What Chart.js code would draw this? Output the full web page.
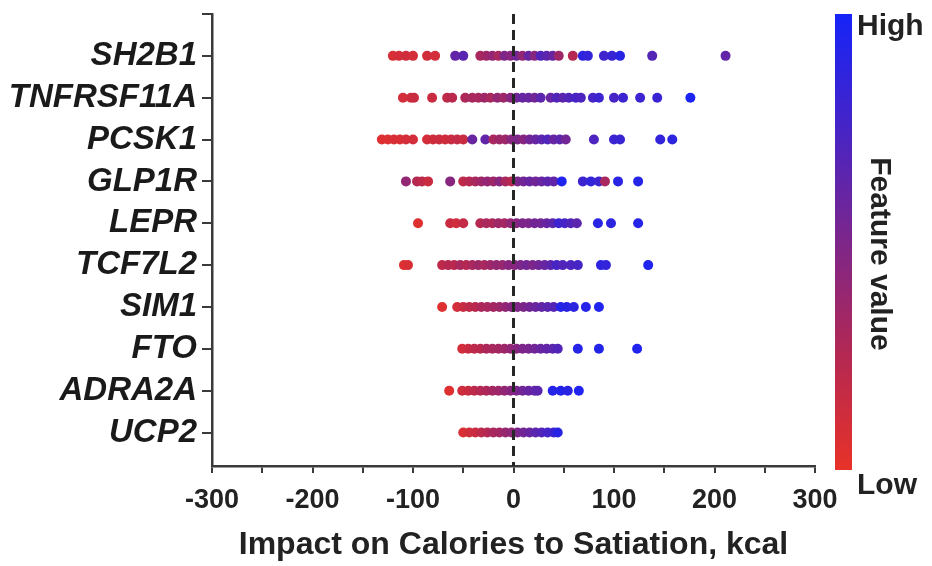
<!DOCTYPE html>
<html>
<head>
<meta charset="utf-8">
<title>Feature impact on calories to satiation</title>
<script src="https://cdn.jsdelivr.net/npm/chart.js"></script>
<style>
  html, body { margin: 0; padding: 0; background: #fff; }
  #wrap { width: 932px; height: 566px; }
</style>
</head>
<body>
<div id="wrap"><canvas id="chart" width="932" height="566"></canvas></div>
<script>
// genes, top to bottom
const genes = ["SH2B1", "TNFRSF11A", "PCSK1", "GLP1R", "LEPR", "TCF7L2", "SIM1", "FTO", "ADRA2A", "UCP2"];

// impact on calories to satiation (kcal), one list per gene
const impacts = [
  [-120,-114,-107,-100,-86,-78,-58,-50,-33,-27,-21,-15,-9,-3,3,9,15,21,27,33,39,45,59,69,74,90,98,106,138,211],
  [-110,-102,-99,-81,-66,-61,-48,-41,-35,-29,-23,-16,-10,-3,3,9,15,21,27,37,43,49,55,62,67,79,85,100,109,126,143,176],
  [-131,-125,-119,-113,-107,-100,-86,-80,-74,-68,-62,-56,-50,-41,-28,-20,-14,-8,-2,4,10,16,22,28,34,40,46,52,80,100,106,146,158],
  [-107,-96,-91,-85,-63,-50,-44,-38,-32,-26,-20,-14,-8,-2,4,10,16,22,28,34,40,48,69,77,85,91,104,124],
  [-95,-63,-57,-50,-33,-27,-21,-15,-9,-3,3,9,15,21,27,33,39,45,51,57,63,84,97,124],
  [-109,-105,-71,-65,-59,-53,-47,-41,-35,-29,-23,-17,-11,-5,1,7,13,19,25,31,37,43,49,57,64,87,92,134],
  [-71,-56,-50,-44,-38,-32,-26,-20,-14,-8,-2,4,10,16,22,28,34,40,47,53,60,72,85],
  [-51,-45,-39,-33,-27,-21,-15,-9,-3,3,9,15,21,27,33,39,44,64,85,123],
  [-64,-51,-45,-39,-33,-27,-21,-15,-9,-3,3,9,15,21,24,39,47,54,65],
  [-50,-44,-38,-32,-26,-20,-14,-8,-2,4,10,16,22,28,34,40,44]
];

// feature value (0 = low, 1 = high), same order as impacts
const features = [
  [0.08,0.1,0.12,0.1,0.12,0.1,0.62,0.66,0.3,0.35,0.4,0.3,0.5,0.45,0.55,0.4,0.6,0.45,0.7,0.65,0.6,0.35,0.25,0.88,0.85,0.78,0.82,0.9,0.68,0.62],
  [0.1,0.12,0.15,0.15,0.2,0.22,0.28,0.3,0.3,0.35,0.3,0.4,0.35,0.45,0.55,0.6,0.6,0.55,0.65,0.6,0.7,0.65,0.7,0.75,0.72,0.75,0.8,0.75,0.8,0.8,0.82,0.97],
  [0.05,0.06,0.08,0.07,0.1,0.1,0.1,0.12,0.14,0.12,0.15,0.18,0.15,0.6,0.62,0.3,0.35,0.35,0.45,0.5,0.45,0.55,0.6,0.65,0.7,0.6,0.65,0.55,0.72,0.8,0.82,0.85,0.88],
  [0.4,0.25,0.2,0.15,0.45,0.2,0.25,0.3,0.35,0.4,0.35,0.45,0.3,0.25,0.5,0.55,0.6,0.55,0.6,0.65,0.62,0.95,0.8,0.85,0.8,0.3,0.9,0.92],
  [0.05,0.15,0.12,0.18,0.25,0.3,0.28,0.35,0.32,0.4,0.45,0.5,0.5,0.55,0.55,0.6,0.65,0.8,0.75,0.7,0.65,0.9,0.88,0.92],
  [0.05,0.08,0.2,0.25,0.22,0.3,0.25,0.3,0.35,0.3,0.35,0.4,0.38,0.45,0.45,0.5,0.55,0.5,0.55,0.6,0.65,0.75,0.7,0.72,0.75,0.88,0.85,0.95],
  [0.05,0.1,0.15,0.2,0.22,0.28,0.3,0.32,0.35,0.4,0.45,0.48,0.5,0.55,0.58,0.62,0.65,0.68,0.92,0.9,0.88,0.92,0.95],
  [0.1,0.15,0.2,0.22,0.28,0.3,0.32,0.35,0.4,0.45,0.5,0.52,0.55,0.6,0.62,0.65,0.7,0.92,0.93,0.95],
  [0.05,0.12,0.15,0.2,0.25,0.28,0.32,0.35,0.4,0.45,0.5,0.55,0.6,0.62,0.65,0.92,0.93,0.9,0.95],
  [0.08,0.12,0.15,0.2,0.25,0.3,0.32,0.38,0.42,0.5,0.55,0.6,0.65,0.7,0.75,0.8,0.9]
];

const xTicks = [-300, -200, -100, 0, 100, 200, 300];

// red (low) -> purple -> blue (high)
const stops = [
  [0, [232, 50, 40]],
  [0.25, [180, 40, 82]],
  [0.5, [125, 38, 138]],
  [0.75, [70, 36, 198]],
  [1, [22, 36, 248]]
];

function featureColor(f) {
  for (let i = 1; i < stops.length; i++) {
    if (f <= stops[i][0]) {
      const [a, ca] = stops[i - 1], [b, cb] = stops[i];
      const t = (f - a) / (b - a);
      const c = ca.map((v, k) => Math.round(v + (cb[k] - v) * t));
      return `rgb(${c[0]},${c[1]},${c[2]})`;
    }
  }
  return 'rgb(22,36,248)';
}

const datasets = genes.map((g, i) => ({
  type: 'scatter',
  label: g,
  order: 1,
  data: impacts[i].map(v => ({ x: v, y: i })),
  pointRadius: 5,
  pointBorderWidth: 0,
  pointBackgroundColor: features[i].map(featureColor)
}));

// dashed zero line
datasets.push({
  type: 'line',
  label: 'zero',
  order: 0,
  data: [{ x: 0, y: -1 }, { x: 0, y: 9.8 }],
  borderColor: '#262626',
  borderWidth: 3,
  borderDash: [10, 6],
  pointRadius: 0
});

// colour bar + labels on the right
const colorBar = {
  id: 'colorBar',
  afterDraw(chart) {
    const { ctx, chartArea } = chart;
    const x = chartArea.right + 20, w = 17;
    const top = chartArea.top, bottom = chartArea.bottom + 4;
    const grad = ctx.createLinearGradient(0, bottom, 0, top);
    stops.forEach(([p]) => grad.addColorStop(p, featureColor(p)));
    ctx.save();
    ctx.fillStyle = grad;
    ctx.fillRect(x, top, w, bottom - top);

    ctx.fillStyle = '#222';
    ctx.font = 'bold 30px "Liberation Sans", Arial, sans-serif';
    ctx.textAlign = 'left';
    ctx.textBaseline = 'middle';
    ctx.fillText('High', x + w + 5, top + 13);
    ctx.fillText('Low', x + w + 5, bottom + 16);

    ctx.translate(x + w + 27, (top + bottom) / 2 + 12);
    ctx.rotate(Math.PI / 2);
    ctx.textAlign = 'center';
    ctx.font = 'bold 30px "Liberation Sans", Arial, sans-serif';
    ctx.fillText('Feature value', 0, 0);
    ctx.restore();
  }
};

const axisColor = '#3a3a3a';

new Chart(document.getElementById('chart'), {
  data: { datasets },
  plugins: [colorBar],
  options: {
    responsive: false,
    animation: false,
    layout: { padding: { left: 0, right: 117, top: 14, bottom: 0 } },
    plugins: { legend: { display: false }, tooltip: { enabled: false } },
    scales: {
      x: {
        type: 'linear',
        min: -300,
        max: 300,
        ticks: {
          stepSize: 50,
          color: '#222',
          padding: 11,
          maxRotation: 0,
          autoSkip: false,
          font: { family: '"Liberation Sans", Arial, sans-serif', size: 27, weight: 'bold' },
          callback: v => xTicks.includes(v) ? String(v) : ''
        },
        grid: { drawOnChartArea: false, drawTicks: true, tickLength: 7, color: axisColor, lineWidth: 2 },
        border: { color: axisColor, width: 2.5 },
        title: {
          display: true,
          text: 'Impact on Calories to Satiation, kcal',
          color: '#222',
          padding: { top: 0, bottom: 2 },
          font: { family: '"Liberation Sans", Arial, sans-serif', size: 32, weight: 'bold' }
        },
        afterFit: s => { s.height = 100; }
      },
      y: {
        type: 'linear',
        min: -1,
        max: 9.8,
        reverse: true,
        afterBuildTicks: s => { s.ticks = [-1, 0, 1, 2, 3, 4, 5, 6, 7, 8, 9].map(v => ({ value: v })); },
        ticks: {
          color: '#1a1a1a',
          padding: 5,
          font: { family: '"Liberation Sans", Arial, sans-serif', size: 33, weight: 'bold', style: 'italic' },
          callback: v => genes[v] || ''
        },
        grid: { drawOnChartArea: false, drawTicks: true, tickLength: 10, color: axisColor, lineWidth: 2 },
        border: { color: axisColor, width: 2.5 },
        afterFit: s => { s.width = 212; s.paddingTop = 0; s.paddingBottom = 0; }
      }
    }
  }
});
</script>
</body>
</html>
